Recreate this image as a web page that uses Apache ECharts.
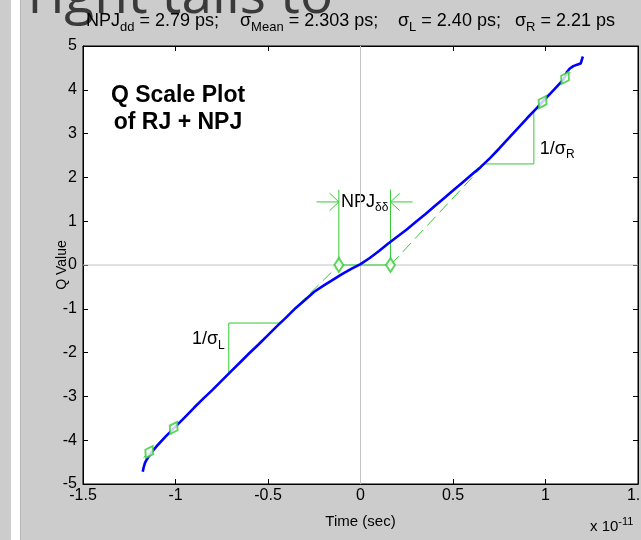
<!DOCTYPE html>
<html><head><meta charset="utf-8">
<script src="https://cdn.jsdelivr.net/npm/echarts@6/dist/echarts.min.js"></script>
<style>html,body{margin:0;padding:0;background:#cccccc;overflow:hidden;width:641px;height:540px;}#c{width:641px;height:540px;display:block;}</style>
</head><body><div id="c"></div>
<script>
// Measured Q-scale curve (time in units of 1e-11 s)
const curveX = [-1.177,-1.172,-1.165,-1.155,-1.145,-1.128,-1.10,-1.05,-1.00,-0.95,-0.90,-0.85,-0.80,-0.75,-0.70,-0.65,-0.60,-0.55,-0.50,-0.45,-0.40,-0.35,-0.30,-0.25,-0.20,-0.15,-0.10,-0.05,0.00,0.05,0.10,0.15,0.20,0.25,0.30,0.35,0.40,0.45,0.50,0.55,0.60,0.65,0.70,0.75,0.80,0.85,0.90,0.95,1.00,1.05,1.10,1.115,1.13,1.15,1.17,1.19,1.20,1.202];
const curveQ = [-4.72,-4.62,-4.52,-4.44,-4.37,-4.27,-4.13,-3.90,-3.69,-3.48,-3.26,-3.05,-2.85,-2.64,-2.43,-2.22,-2.01,-1.81,-1.60,-1.39,-1.19,-0.98,-0.80,-0.61,-0.47,-0.34,-0.21,-0.09,0.02,0.16,0.32,0.49,0.65,0.81,0.99,1.16,1.34,1.52,1.70,1.88,2.06,2.24,2.44,2.66,2.89,3.12,3.35,3.57,3.80,4.02,4.25,4.40,4.48,4.54,4.57,4.60,4.62,4.76];
// Gaussian tail fits (units 1e-11 s)
const muL = -0.117, muR = 0.162, sigmaL = 0.240, sigmaR = 0.221;
const leftFitQ = [-4.40, 0];
const rightFitQ = [0, 4.40];
const leftMarkQ = [-4.27, -3.72, 0];
const rightMarkQ = [0, 3.72, 4.27];
const triLeftX = [-0.712, -0.435];
const triRightX = [0.672, 0.937];
const npjTopQ = 1.72, npjArrowQ = 1.44;
const xTicks = [-1.5, -1, -0.5, 0, 0.5, 1, 1.5];
const yTicks = [-5, -4, -3, -2, -1, 0, 1, 2, 3, 4, 5];
const titleParts = [
  ['NPJ', 'dd', ' = 2.79 ps;'],
  ['σ', 'Mean', ' = 2.303 ps;'],
  ['σ', 'L', ' = 2.40 ps;'],
  ['σ', 'R', ' = 2.21 ps']
];

const FONT = '"Liberation Sans", Arial, sans-serif';
const green = '#33cc33';
const qL = x => (x - muL) / sigmaL;
const qR = x => (x - muR) / sigmaR;

const chart = echarts.init(document.getElementById('c'), null, {renderer: 'canvas', width: 641, height: 540});

function lineSeries(data, opts) {
  return Object.assign({
    type: 'line', data: data, showSymbol: false, symbol: 'none', silent: true,
    animation: false, lineStyle: {color: green, width: 1}, z: 3
  }, opts || {});
}

const ah = 0.05, aw = 0.2, alen = 0.12;
const series = [
  lineSeries([[0, yTicks[0]], [0, yTicks[yTicks.length-1]]], {lineStyle: {color: '#c4c4c4', width: 1}, z: 1}),
  lineSeries([[xTicks[0], 0], [xTicks[xTicks.length-1], 0]], {lineStyle: {color: '#c4c4c4', width: 1}, z: 1}),
  lineSeries(leftFitQ.map(q => [muL + sigmaL * q, q]), {lineStyle: {color: green, width: 1, type: [12, 6]}}),
  lineSeries(rightFitQ.map(q => [muR + sigmaR * q, q]), {lineStyle: {color: green, width: 1, type: [12, 6]}}),
  lineSeries([[muL, 0], [muR, 0]]),
  lineSeries([[muL, 0], [muL, npjTopQ]]),
  lineSeries([[muR, 0], [muR, npjTopQ]]),
  lineSeries([[muL - alen, npjArrowQ], [muL, npjArrowQ]]),
  lineSeries([[muL - ah, npjArrowQ + aw], [muL, npjArrowQ], [muL - ah, npjArrowQ - aw]]),
  lineSeries([[muR + alen, npjArrowQ], [muR, npjArrowQ]]),
  lineSeries([[muR + ah, npjArrowQ + aw], [muR, npjArrowQ], [muR + ah, npjArrowQ - aw]]),
  lineSeries([[triLeftX[0], qL(triLeftX[0])], [triLeftX[0], qL(triLeftX[1])], [triLeftX[1], qL(triLeftX[1])]]),
  lineSeries([[triRightX[0], qR(triRightX[0])], [triRightX[1], qR(triRightX[0])], [triRightX[1], qR(triRightX[1])]]),
  lineSeries(curveX.map((x, i) => [x, curveQ[i]]), {lineStyle: {color: '#0000ff', width: 2.6}, z: 5}),
  {type: 'scatter', silent: true, animation: false, z: 6, symbol: 'emptyDiamond', symbolSize: [9, 14],
   itemStyle: {color: green, borderColor: green, borderWidth: 1},
   data: leftMarkQ.map(q => ({value: [muL + sigmaL * q, q], symbolRotate: q === 0 ? 0 : -30}))
     .concat(rightMarkQ.map(q => ({value: [muR + sigmaR * q, q], symbolRotate: q === 0 ? 0 : -30})))}
];

const axisCommon = {
  type: 'value', splitLine: {show: false},
  axisLine: {show: true, onZero: false, lineStyle: {color: '#000', width: 1}},
  axisTick: {show: true, inside: true, length: 5, lineStyle: {color: '#000'}}
};

chart.setOption({
  backgroundColor: '#cccccc',
  animation: false,
  grid: {left: 83, right: 3, top: 46, bottom: 56, containLabel: false, outerBoundsMode: 'none',
         show: true, backgroundColor: '#ffffff', borderColor: '#000', borderWidth: 1},
  xAxis: [
    Object.assign({}, axisCommon, {position: 'bottom', min: xTicks[0], max: xTicks[xTicks.length-1], interval: 0.5,
      axisLabel: {color: '#000', fontSize: 16, fontFamily: FONT, margin: 4, showMaxLabel: true, showMinLabel: true},
      name: 'Time (sec)', nameLocation: 'middle', nameGap: 30, nameMoveOverlap: false,
      nameTextStyle: {color: '#000', fontSize: 15, fontFamily: FONT}}),
    Object.assign({}, axisCommon, {position: 'top', min: xTicks[0], max: xTicks[xTicks.length-1], interval: 0.5, axisLabel: {show: false}})
  ],
  yAxis: [
    Object.assign({}, axisCommon, {position: 'left', min: yTicks[0], max: yTicks[yTicks.length-1], interval: 1,
      axisLabel: {color: '#000', fontSize: 16, fontFamily: FONT, margin: 6},
      name: 'Q Value', nameLocation: 'middle', nameGap: 14, nameMoveOverlap: false,
      nameTextStyle: {color: '#000', fontSize: 14, fontFamily: FONT}}),
    Object.assign({}, axisCommon, {position: 'right', min: yTicks[0], max: yTicks[yTicks.length-1], interval: 1, axisLabel: {show: false}})
  ],
  series: series
});

const px = (x, q) => chart.convertToPixel({xAxisIndex: 0, yAxisIndex: 0}, [x, q]);
const sub = {
  n: {fontSize: 18, fontFamily: FONT, color: '#000', lineHeight: 18},
  s: {fontSize: 12, fontFamily: FONT, color: '#000', lineHeight: 12, padding: [12, 0, 0, 0]},
  b: {fontSize: 18, fontFamily: FONT, color: '#000', lineHeight: 18},
  sb: {fontSize: 13, fontFamily: FONT, color: '#000', lineHeight: 13, padding: [12, 0, 0, 0]},
  xn: {fontSize: 15, fontFamily: FONT, color: '#000', lineHeight: 16},
  sup: {fontSize: 11, fontFamily: FONT, color: '#000', lineHeight: 12, padding: [0, 0, 10, 0]}
};
const titleX = [86, 240, 398, 515];
const graphics = [
  {type: 'rect', shape: {x: 11, y: 0, width: 9, height: 540}, style: {fill: '#ffffff'}, z: 0},
  {type: 'rect', shape: {x: 20, y: 0, width: 1, height: 540}, style: {fill: '#b8b8b8'}, z: 0},
  {type: 'text', x: 28, y: 25, style: {text: 'right tails to', fontSize: 55, fontFamily: '"Open Sans", sans-serif', fill: '#3a3a3a', verticalAlign: 'bottom', align: 'left'}, z: 0}
];
titleParts.forEach((p, i) => {
  graphics.push({type: 'text', x: titleX[i], y: 21, style: {
    text: '{b|' + p[0] + '}{sb|' + p[1] + '}{b|' + p[2] + '}', rich: sub, verticalAlign: 'middle', align: 'left'}});
});
graphics.push({type: 'text', x: 178, y: 96, style: {text: 'Q Scale Plot', fontSize: 23, fontWeight: 'bold', fontFamily: FONT, fill: '#000', align: 'center', verticalAlign: 'middle'}});
graphics.push({type: 'text', x: 178, y: 123, style: {text: 'of RJ + NPJ', fontSize: 23, fontWeight: 'bold', fontFamily: FONT, fill: '#000', align: 'center', verticalAlign: 'middle'}});
const pNpj = px((muL + muR) / 2, npjArrowQ);
graphics.push({type: 'text', x: pNpj[0], y: pNpj[1], style: {text: '{n|NPJ}{s|δδ}', rich: sub, align: 'center', verticalAlign: 'middle'}});
const pTL = px(triLeftX[0], (qL(triLeftX[0]) + qL(triLeftX[1])) / 2);
graphics.push({type: 'text', x: pTL[0] - 4, y: pTL[1] - 9, style: {text: '{n|1/σ}{s|L}', rich: sub, align: 'right', verticalAlign: 'middle'}});
const pTR = px(triRightX[1], (qR(triRightX[0]) + qR(triRightX[1])) / 2);
graphics.push({type: 'text', x: pTR[0] + 6, y: pTR[1] + 11, style: {text: '{n|1/σ}{s|R}', rich: sub, align: 'left', verticalAlign: 'middle'}});
graphics.push({type: 'text', x: 590, y: 527, style: {text: '{xn|x 10}{sup|-11}', rich: sub, align: 'left', verticalAlign: 'middle'}});
chart.setOption({graphic: graphics});
</script>
</body></html>
